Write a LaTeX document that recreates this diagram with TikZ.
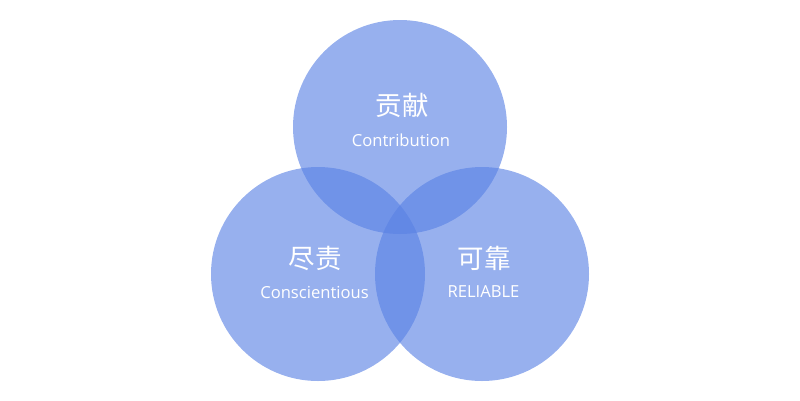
\documentclass[tikz,border=0pt]{standalone}
\usepackage{fontspec}
\setmainfont{Open Sans}
\newfontfamily\cjk{Noto Sans CJK SC}
\usetikzlibrary{positioning}
\definecolor{venn}{RGB}{89,129,228}
\def\vennrad{214pt}
\tikzset{vennset/.style={circle,fill=venn,fill opacity=0.625,minimum size=\vennrad,inner sep=0pt}}
\tikzset{titlecn/.style={text=white,font=\cjk\fontsize{26.5}{30}\selectfont}}
\tikzset{titleen/.style={text=white,font=\fontsize{16.6}{20}\selectfont}}
\begin{document}
\begin{tikzpicture}[x=1pt,y=-1pt]
  \useasboundingbox (0,0) rectangle (800,400);
  \node[vennset] (contrib) at (400,127) {};
  \node[vennset] (consc) at (318,274) {};
  \node[vennset] (reliable) at (482,274) {};

  \node[titlecn] (contribcn) at (402,105) {贡献};
  \node[titleen] (contriben) at (401,140) {Contribution};
  \node[titlecn] (consccn) at (315,258) {尽责};
  \node[titleen] (conscen) at (314.5,292) {Conscientious};
  \node[titlecn] (reliablecn) at (484,258) {可靠};
  \node[titleen] (reliableen) at (483.5,292) {RELIABLE};
\end{tikzpicture}
\end{document}
